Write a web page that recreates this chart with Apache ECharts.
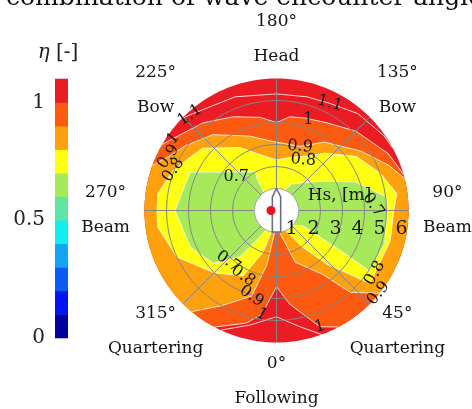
<!DOCTYPE html>
<html><head><meta charset="utf-8">
<script src="https://cdn.jsdelivr.net/npm/echarts@6/dist/echarts.min.js"></script>
<style>html,body{margin:0;padding:0;background:#fff;overflow:hidden}#c{width:472px;height:409px}</style>
</head><body><div id="c"></div><script>
// ---- data (angle in degrees, Hs in m) ----
const angleTicks = [0, 45, 90, 135, 180, 225, 270, 315];
const angleNames = ['Following', 'Quartering', 'Beam', 'Bow', 'Head', 'Bow', 'Beam', 'Quartering'];
const radiusTicks = [1, 2, 3, 4, 5, 6];
const cbarLower = [0, 0.1, 0.2, 0.3, 0.4, 0.5, 0.6, 0.7, 0.8, 0.9, 1.0];
const cbarColors = ['#00009c', '#0014f2', '#0a5cf5', '#12a4f2', '#10eef0', '#5fe6a4', '#a6ea5c', '#ffff10', '#ffa10c', '#fb5a10', '#ec1c24'];
// contour paths [angle, Hs]
const contour07 = [[0,1],[48,1],[60,1.4],[58,3.4],[57,5.0],[73,5.15],[90,5.02],[97,5.05],[110,3.8],[123,2.45],[150,1.4],[158,1],[214,1],[212,1.6],[209,2.0],[227,2.57],[246,4.3],[270,4.61],[292.7,4.26],[310,3.74],[321.7,2.68],[327.8,1.41],[332,1],[360,1]];
const contour08 = [[0,1],[25,1],[35,2.0],[43,3.3],[52,5.39],[57.5,5.3],[75,5.35],[90,5.33],[98,5.52],[110,5.0],[124,4.39],[140,3.4],[152,2.8],[165,2.5],[180,2.3],[195,2.6],[210,3.3],[230,4.4],[248.6,5.04],[262,5.45],[278,5.45],[295,5.0],[315,4.0],[333,3.34],[342,2.0],[347,1],[360,1]];
const contour09 = [[0,1],[8,1],[20,2.5],[36,3.6],[42,5.0],[50.9,5.97],[52,6],[104,6],[112,5.5],[125,4.7],[145,3.8],[160,3.1],[180,3.1],[200,3.6],[220,4.5],[235,5.1],[243.5,5.49],[250,6],[320,6],[330,5.0],[343.8,4.05],[350,2.5],[355,1],[360,1]];
const contour10 = [[0,3.46],[8,4.3],[20.5,5.64],[28,6],[106,6],[117,5.7],[135,5.1],[150,4.6],[162.8,4.4],[172,4.3],[180,4.0],[190,4.3],[205,4.7],[220,5.2],[235,5.72],[240,6],[332,6],[345,5.3],[351.9,4.77],[356,4.0],[360,3.46]];
const contour11 = [[0,4.83],[11.4,5.39],[20,6],[118,6],[125,5.95],[140,5.75],[153.5,5.44],[165,5.35],[180,5.3],[200,5.5],[222,5.86],[226,6],[335,6],[347,5.34],[360,4.83]];
// contour label annotations: [text, angle, Hs, rotationDeg]
const contourLabels = [
  ['1.1', 222.2, 5.86, 35], ['1', 235, 5.72, 50], ['0.9', 243.5, 5.49, 55], ['0.8', 248.6, 5.04, 55], ['0.7', 229.8, 2.4, 0],
  ['1.1', 153.5, 5.44, -15], ['1', 160.6, 4.36, 0], ['0.9', 159.8, 3.09, -5], ['0.8', 152, 2.6, -5], ['0.7', 93.3, 4.4, -55],
  ['0.8', 57.5, 5.3, 60], ['0.9', 50.9, 5.97, 50], ['1', 20.5, 5.64, 15],
  ['0.7', 316.7, 3.19, -35], ['0.8', 333, 3.34, -35], ['0.9', 343.8, 4.05, -35], ['1', 351.9, 4.77, -30]
];
// ship outline in Hs units (x right, y up)
const shipOutline = [[0, 1.0], [0.19, 0.62], [0.19, -0.98], [-0.19, -0.98], [-0.19, 0.62]];
const sensorPoint = [-0.25, 0];

const SERIF = '"DejaVu Serif", serif';
const chart = echarts.init(document.getElementById('c'), null, {renderer: 'canvas'});

function densify(path) {
  const out = [];
  for (let i = 0; i < path.length; i++) {
    const a = path[i]; out.push(a);
    const b = path[i + 1]; if (!b) break;
    if (Math.abs(a[1] - b[1]) < 1e-9) {
      const n = Math.ceil(Math.abs(b[0] - a[0]) / 2);
      for (let k = 1; k < n; k++) out.push([a[0] + (b[0] - a[0]) * k / n, a[1]]);
    }
  }
  return out;
}
const fullDisc = [[0, 6], [360, 6]];
const fillPaths = [fullDisc, contour10, contour09, contour08, contour07];
const fillColors = ['#ec1c24', '#fb5a10', '#ffa10c', '#ffff10', '#a6ea5c'];
const linePaths = [contour07, contour08, contour09, contour10, contour11];

function xyToPolar(p) { // Hs units x right, y up -> [Hs, angle]
  const dx = p[0], dy = -p[1];
  const r = Math.sqrt(dx * dx + dy * dy);
  let th = Math.atan2(dx, dy) * 180 / Math.PI; if (th < 0) th += 360;
  return [r, th];
}

const option = {
  animation: false,
  backgroundColor: '#fff',
  polar: {center: [276.5, 210.5], radius: 132},
  angleAxis: {type: 'value', min: 0, max: 360, interval: 45, startAngle: 270, clockwise: false, z: 3,
    axisLine: {show: false}, axisTick: {show: false}, axisLabel: {show: false},
    splitLine: {show: true, lineStyle: {color: '#858585', width: 1}}},
  radiusAxis: {type: 'value', min: 0, max: 6, interval: 1, z: 3,
    axisLine: {show: false}, axisTick: {show: false}, axisLabel: {show: false},
    splitLine: {show: true, lineStyle: {color: ['none', '#858585', '#858585', '#858585', '#858585', '#858585', 'none'], width: 1}}},
  grid: {left: 55, top: 79, width: 13, height: 259},
  xAxis: {type: 'value', min: 0, max: 1, show: false},
  yAxis: {type: 'value', min: 0, max: 1.1, interval: 0.5,
    axisLine: {show: false}, axisTick: {show: false}, splitLine: {show: false},
    axisLabel: {showMaxLabel: false, margin: 10, fontSize: 20, fontFamily: SERIF, color: '#222'}},
  graphic: [
    {type: 'text', left: 6, top: -14, style: {text: 'combination of wave encounter angle', font: '25px ' + SERIF, fill: '#111'}},
    {type: 'text', x: 58, y: 53, style: {text: '{i|η} [-]', rich: {i: {fontStyle: 'italic', fontFamily: SERIF, fontSize: 20}},
      font: '20px ' + SERIF, fill: '#222', align: 'center', verticalAlign: 'middle'}}
  ],
  series: [
    { // colorbar
      type: 'custom', coordinateSystem: 'cartesian2d', xAxisIndex: 0, yAxisIndex: 0,
      data: cbarLower.map(v => [0, v]),
      renderItem: (params, api) => {
        const lo = cbarLower[params.dataIndex], hi = lo + 0.1;
        const p1 = api.coord([0, hi]), p2 = api.coord([1, lo]);
        return {type: 'rect', shape: {x: p1[0], y: p1[1] - 0.3, width: p2[0] - p1[0], height: p2[1] - p1[1] + 0.6},
          style: {fill: cbarColors[params.dataIndex]}};
      }
    },
    { // filled contour regions
      type: 'custom', coordinateSystem: 'polar', z: 1,
      data: fillPaths.map((p, i) => [6, i]),
      renderItem: (params, api) => {
        const pts = densify(fillPaths[params.dataIndex]).map(p => api.coord([p[1], p[0]]));
        return {type: 'polygon', shape: {points: pts}, style: {fill: fillColors[params.dataIndex]}};
      }
    },
    { // contour lines
      type: 'custom', coordinateSystem: 'polar', z: 2,
      data: linePaths.map((p, i) => [6, i]),
      renderItem: (params, api) => {
        const path = linePaths[params.dataIndex];
        const children = [];
        let run = [];
        const onB = p => p[1] <= 1.0001 || p[1] >= 5.999;
        for (let i = 0; i < path.length - 1; i++) {
          const a = path[i], b = path[i + 1];
          if (onB(a) && onB(b)) { if (run.length > 1) children.push(run); run = []; continue; }
          if (!run.length) run.push(api.coord([a[1], a[0]]));
          run.push(api.coord([b[1], b[0]]));
        }
        if (run.length > 1) children.push(run);
        return {type: 'group', children: children.map(pts => ({type: 'polyline', shape: {points: pts},
          style: {stroke: 'rgba(255,255,255,0.8)', lineWidth: 1, fill: null}}))};
      }
    },
    { // hole, ship, sensor
      type: 'custom', coordinateSystem: 'polar', z: 5,
      data: [[0, 0]],
      renderItem: (params, api) => {
        const c = api.coord([0, 0]);
        const e = api.coord([1, 90]);
        const R = Math.abs(e[0] - c[0]);
        const ship = shipOutline.map(p => { const q = xyToPolar(p); return api.coord([q[0], q[1]]); });
        const sp = xyToPolar(sensorPoint); const s = api.coord([sp[0], sp[1]]);
        return {type: 'group', children: [
          {type: 'circle', shape: {cx: c[0], cy: c[1], r: R}, style: {fill: '#fff', stroke: '#b0b0b0', lineWidth: 0.8}},
          {type: 'polygon', shape: {points: ship}, style: {fill: '#fff', stroke: '#6e6e7a', lineWidth: 1.6}},
          {type: 'circle', shape: {cx: s[0], cy: s[1], r: 4.5}, style: {fill: '#e8141c'}}
        ]};
      }
    },
    { // contour labels
      type: 'custom', coordinateSystem: 'polar', z: 6,
      data: contourLabels.map(l => [l[2], l[1]]),
      renderItem: (params, api) => {
        const l = contourLabels[params.dataIndex];
        const p = api.coord([l[2], l[1]]);
        return {type: 'text', x: p[0], y: p[1], rotation: l[3] * Math.PI / 180,
          style: {text: l[0], font: '16px ' + SERIF, fill: '#151515', align: 'center', verticalAlign: 'middle'}};
      }
    },
    { // radius tick labels + axis name
      type: 'custom', coordinateSystem: 'polar', z: 6,
      data: radiusTicks.map(r => [r, 90]),
      renderItem: (params, api) => {
        const r = radiusTicks[params.dataIndex];
        const p = api.coord([r, 90]);
        const kids = [{type: 'text', x: p[0] - 7, y: p[1] + 19,
          style: {text: String(r), font: '19px ' + SERIF, fill: '#151515', align: 'center', verticalAlign: 'middle'}}];
        if (r === 3) kids.push({type: 'text', x: p[0] - 3, y: p[1] - 15,
          style: {text: 'Hs, [m]', font: '17px ' + SERIF, fill: '#151515', align: 'center', verticalAlign: 'middle'}});
        return {type: 'group', children: kids};
      }
    },
    { // angle labels
      type: 'custom', coordinateSystem: 'polar', z: 6,
      data: angleTicks.map(a => [7.77, a]),
      renderItem: (params, api) => {
        const a = angleTicks[params.dataIndex];
        const p = api.coord([7.77, a]);
        return {type: 'group', children: [
          {type: 'text', x: p[0], y: p[1] - 17.5, style: {text: a + '°', font: '17px ' + SERIF, fill: '#151515', align: 'center', verticalAlign: 'middle'}},
          {type: 'text', x: p[0], y: p[1] + 17.5, style: {text: angleNames[params.dataIndex], font: '17px ' + SERIF, fill: '#151515', align: 'center', verticalAlign: 'middle'}}
        ]};
      }
    }
  ]
};
chart.setOption(option);
</script></body></html>
